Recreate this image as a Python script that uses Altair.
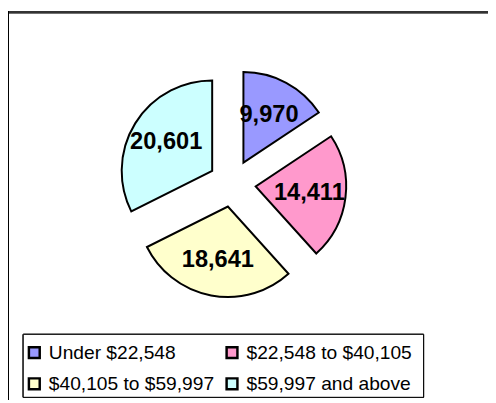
import altair as alt
import pandas as pd

categories = ["Under $22,548", "$22,548 to $40,105", "$40,105 to $59,997", "$59,997 and above"]
values = [9970, 14411, 18641, 20601]
colors = ["#9999FF", "#FF99CC", "#FFFFCC", "#CCFFFF"]

df = pd.DataFrame({"idx": list(range(len(categories))), "cat": categories, "value": values})

W, H = 488, 395
CX, CY = 228, 175      # pie centre (plot coords)
R = 92                 # pie radius
D = 24                 # explode distance
LR = 55                # label distance from slice apex

base = alt.Chart(df).transform_window(
    cum="sum(value)", sort=[alt.SortField("idx")], frame=[None, 0]
).transform_joinaggregate(
    total="sum(value)"
).transform_calculate(
    t1="datum.cum / datum.total * 2 * PI",
    t0="(datum.cum - datum.value) / datum.total * 2 * PI",
).transform_calculate(
    mid="(datum.t0 + datum.t1) / 2"
).transform_calculate(
    cx=f"{CX} + {D} * sin(datum.mid)",
    cy=f"{CY} - {D} * cos(datum.mid)",
).transform_calculate(
    lx=f"datum.cx + {LR} * sin(datum.mid)",
    ly=f"datum.cy - {LR} * cos(datum.mid)",
    label="format(datum.value, ',')",
)

arcs = base.mark_arc(outerRadius=R, stroke="black", strokeWidth=2, strokeJoin="miter").encode(
    theta=alt.Theta("t0:Q", scale=None),
    theta2="t1:Q",
    x=alt.X("cx:Q", scale=None),
    y=alt.Y("cy:Q", scale=None),
    fill=alt.Color(
        "cat:N",
        sort=categories,
        scale=alt.Scale(domain=categories, range=colors),
        legend=alt.Legend(
            title=None,
            orient="none",
            legendX=11,
            legendY=331,
            columns=2,
            direction="horizontal",
            padding=6,
            symbolType="square",
            symbolSize=121,
            symbolStrokeWidth=2.5,
            symbolStrokeColor="black",
            labelFont="Liberation Sans",
            labelFontSize=19.5,
            labelColor="black",
            labelOffset=5,
            labelLimit=400,
            columnPadding=7,
            rowPadding=10,
        ),
    ),
)

labels = base.mark_text(font="Liberation Sans", fontSize=24, fontWeight="bold", color="black").encode(
    x=alt.X("lx:Q", scale=None),
    y=alt.Y("ly:Q", scale=None),
    text="label:N",
)

frame_top = alt.Chart(df).mark_rule(color="#333333", strokeWidth=2).encode(
    x=alt.value(0), x2=alt.value(W), y=alt.value(1)
)
frame_left = alt.Chart(df).mark_rule(color="black", strokeWidth=1).encode(
    x=alt.value(0.5), y=alt.value(0), y2=alt.value(H)
)
legend_box = alt.Chart(df).mark_rect(fill="white", stroke="black", strokeWidth=1).encode(
    x=alt.value(15.5), x2=alt.value(422.5), y=alt.value(328.5), y2=alt.value(392.5)
)

chart = alt.layer(frame_top, frame_left, legend_box, arcs, labels).properties(
    width=W, height=H, autosize="none", padding=0
).configure_view(stroke=None)

chart.save("out.html", embed_options={"renderer": "svg", "actions": False})
